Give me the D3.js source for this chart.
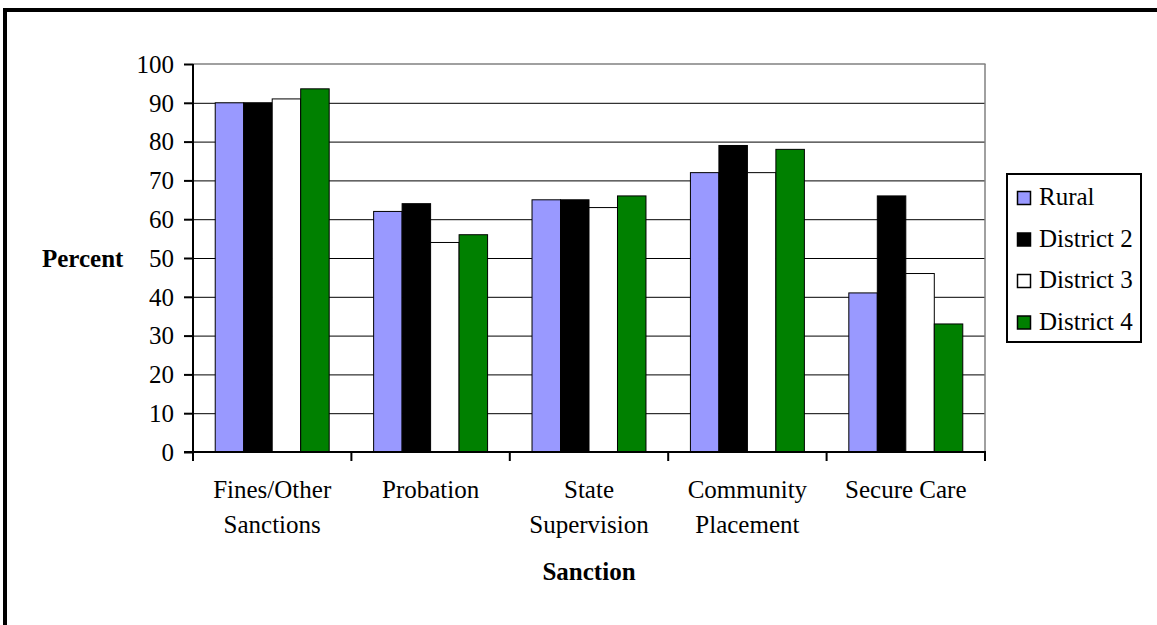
<!DOCTYPE html>
<html>
<head>
<meta charset="utf-8">
<script src="https://cdn.jsdelivr.net/npm/d3@7"></script>
</head>
<body style="margin:0;background:#fff">
<svg id="chart" width="1157" height="625" style="display:block" font-family="Liberation Serif"></svg>
<script>
// Sanctions by district, percent
const categories = [["Fines/Other", "Sanctions"], ["Probation"], ["State", "Supervision"], ["Community", "Placement"], ["Secure Care"]];
const seriesNames = ["Rural", "District 2", "District 3", "District 4"];
const seriesColors = ["#9999ff", "#000000", "#ffffff", "#008000"];
const rural     = [90, 62, 65, 72, 41];
const district2 = [90, 64, 65, 79, 66];
const district3 = [91, 54, 63, 72, 46];
const district4 = [93.6, 56, 66, 78, 33];
const yTicks = [0, 10, 20, 30, 40, 50, 60, 70, 80, 90, 100];

const seriesValues = [rural, district2, district3, district4];
const serif = '"Liberation Serif"';

// Applies the serif face to a text selection
function serifText(sel, size, weight) {
  sel.attr("font-family", "Liberation Serif").attr("font-size", size)
    .style("font-family", serif).style("font-size", size + "px")
    .style("font-weight", weight || "normal").style("fill", "#000");
  return sel;
}

const svg = d3.select("#chart");
const plot = { left: 193, right: 985, top: 64, bottom: 452 };

// Frame around the chart (top and left edges visible)
svg.append("line").attr("x1", 3).attr("x2", 1157).attr("y1", 10).attr("y2", 10)
  .attr("stroke", "#000").attr("stroke-width", 4);
svg.append("line").attr("x1", 5).attr("x2", 5).attr("y1", 8).attr("y2", 625)
  .attr("stroke", "#000").attr("stroke-width", 4);

const catKeys = categories.map((c, i) => i);
const x0 = d3.scaleBand().domain(catKeys).range([plot.left, plot.right]).paddingInner(0).paddingOuter(0);
const x1 = d3.scaleBand().domain(d3.range(seriesNames.length)).range([0, x0.bandwidth()])
  .paddingInner(0).paddingOuter(0.78);
const y = d3.scaleLinear().domain([0, 100]).range([plot.bottom, plot.top]);

// Gridlines
svg.append("g").selectAll("line").data(yTicks.filter(t => t > 0 && t < 100)).join("line")
  .attr("x1", plot.left).attr("x2", plot.right)
  .attr("y1", d => y(d) + 0.5).attr("y2", d => y(d) + 0.5)
  .attr("stroke", "#000").attr("stroke-width", 1);

// Plot area top and right edges
svg.append("line").attr("x1", plot.left).attr("x2", plot.right + 0.5)
  .attr("y1", y(100)).attr("y2", y(100)).attr("stroke", "#808080").attr("stroke-width", 1.5);
svg.append("line").attr("x1", plot.right).attr("x2", plot.right)
  .attr("y1", y(100)).attr("y2", plot.bottom).attr("stroke", "#808080").attr("stroke-width", 1.5);

// Bars
const groups = svg.append("g").selectAll("g").data(catKeys).join("g")
  .attr("transform", d => `translate(${x0(d)},0)`);
groups.selectAll("rect")
  .data(ci => seriesValues.map((vals, si) => ({ si, v: vals[ci] })))
  .join("rect")
  .attr("x", d => x1(d.si))
  .attr("y", d => y(d.v))
  .attr("width", x1.bandwidth())
  .attr("height", d => y(0) - y(d.v))
  .attr("fill", d => seriesColors[d.si])
  .attr("stroke", "#000").attr("stroke-width", 1);

// Y axis
const yAxis = d3.axisLeft(y).tickValues(yTicks).tickSize(9).tickPadding(10).tickFormat(d3.format("d"));
const gy = svg.append("g").attr("transform", `translate(${plot.left},0)`).call(yAxis)
  .attr("font-family", "Liberation Serif").attr("font-size", 25);
gy.select(".domain").attr("stroke", "#000").attr("stroke-width", 2).attr("d", `M0,${plot.top}V${plot.bottom + 1}`);
gy.selectAll(".tick line").attr("stroke", "#000").attr("stroke-width", 2);
serifText(gy.selectAll(".tick text"), 25).attr("dy", "0.33em");

// X axis with ticks at category boundaries
const boundaries = catKeys.map(k => x0(k)).concat([plot.right]);
svg.append("line").attr("x1", plot.left - 9).attr("x2", plot.right + 1)
  .attr("y1", plot.bottom).attr("y2", plot.bottom).attr("stroke", "#000").attr("stroke-width", 2);
svg.append("g").selectAll("line").data(boundaries).join("line")
  .attr("x1", d => d).attr("x2", d => d)
  .attr("y1", plot.bottom).attr("y2", plot.bottom + 9)
  .attr("stroke", "#000").attr("stroke-width", 2);

// Category labels
const catLabels = svg.append("g").selectAll("text").data(catKeys).join("text")
  .attr("x", d => x0(d) + x0.bandwidth() / 2)
  .attr("y", 498)
  .attr("text-anchor", "middle");
serifText(catLabels, 25);
catLabels.selectAll("tspan").data(d => categories[d]).join("tspan")
  .attr("x", function () { return d3.select(this.parentNode).attr("x"); })
  .attr("dy", (d, i) => i === 0 ? 0 : 35)
  .text(d => d);

// Axis titles
serifText(svg.append("text").attr("x", (plot.left + plot.right) / 2).attr("y", 580)
  .attr("text-anchor", "middle"), 25, "bold").text("Sanction");
serifText(svg.append("text").attr("x", 42).attr("y", 267), 25, "bold").text("Percent");

// Legend
const legend = svg.append("g");
legend.append("rect").attr("x", 1007).attr("y", 174).attr("width", 134).attr("height", 168)
  .attr("fill", "#fff").attr("stroke", "#000").attr("stroke-width", 2);
const items = legend.selectAll("g").data(seriesNames).join("g")
  .attr("transform", (d, i) => `translate(1017,${191 + i * 41.5})`);
items.append("rect").attr("x", 0.5).attr("y", 0.5).attr("width", 13).attr("height", 13)
  .attr("fill", (d, i) => seriesColors[i]).attr("stroke", "#000").attr("stroke-width", 1.5);
serifText(items.append("text").attr("x", 22).attr("y", 14), 25).text(d => d);
</script>
</body>
</html>
